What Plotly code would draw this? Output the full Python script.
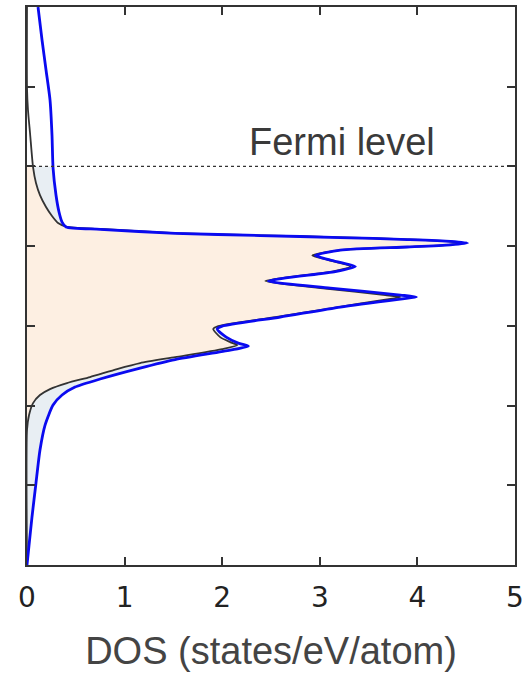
import numpy as np
import plotly.graph_objects as go

# Blue curve (energy in eV relative to Fermi level, DOS in states/eV/atom)
energy_blue = [2.000, 1.586, 1.210, 0.833, 0.395, -0.020, -0.359, -0.572, -0.698, -0.760,
               -0.789, -0.839, -0.867, -0.892, -0.917, -0.939, -0.961, -0.984, -1.011, -1.049,
               -1.118, -1.174, -1.256, -1.319, -1.438, -1.526, -1.614, -1.639, -1.664, -1.764,
               -1.890, -2.003, -2.040, -2.141, -2.216, -2.254, -2.304, -2.423, -2.530, -2.667,
               -2.768, -2.868, -2.994, -3.245, -3.558, -3.972, -4.399, -4.750, -5.000]
dos_blue = [0.113, 0.154, 0.195, 0.236, 0.256, 0.267, 0.297, 0.328, 0.359, 0.400,
            0.749, 1.518, 2.390, 3.210, 3.897, 4.338, 4.513, 4.338, 3.897, 3.210,
            2.954, 3.108, 3.364, 3.159, 2.472, 3.108, 3.826, 3.990, 3.826, 3.210,
            2.595, 2.000, 1.949, 2.041, 2.164, 2.267, 2.082, 1.518, 1.159, 0.749,
            0.492, 0.359, 0.267, 0.185, 0.133, 0.092, 0.051, 0.021, 0.000]

# Black curve
energy_black = [2.000, 0.984, 0.708, 0.419, -0.008, -0.208, -0.359, -0.509, -0.622, -0.710,
                -0.754, -0.785, -0.836, -0.864, -0.889, -0.915, -0.939, -0.961, -0.984, -1.011,
                -1.051, -1.118, -1.174, -1.256, -1.319, -1.438, -1.532, -1.614, -1.639, -1.670,
                -1.770, -1.890, -2.003, -2.040, -2.141, -2.204, -2.241, -2.291, -2.392, -2.467,
                -2.542, -2.642, -2.718, -2.793, -2.868, -2.969, -3.119, -3.307, -5.000]
dos_black = [0.000, 0.000, 0.010, 0.031, 0.062, 0.092, 0.133, 0.195, 0.256, 0.318,
             0.400, 0.749, 1.518, 2.390, 3.210, 3.897, 4.318, 4.472, 4.318, 3.897,
             3.210, 2.923, 3.087, 3.313, 3.128, 2.441, 3.056, 3.672, 3.826, 3.672,
             3.159, 2.544, 1.959, 1.908, 1.979, 2.082, 2.154, 2.000, 1.518, 1.159,
             0.923, 0.646, 0.410, 0.236, 0.133, 0.062, 0.021, 0.000, 0.000]

fermi_energy = 0.0
x_ticks = [0, 1, 2, 3, 4, 5]
x_title = "DOS (states/eV/atom)"
fermi_label = "Fermi level"


def occupied(energy, dos, ef):
    e = np.array(energy, dtype=float)
    d = np.array(dos, dtype=float)
    mask = e <= ef
    # interpolate value at the Fermi level (energies are descending)
    d_ef = float(np.interp(ef, e[::-1], d[::-1]))
    return np.concatenate([[d_ef], d[mask]]), np.concatenate([[ef], e[mask]])


fb_x, fb_y = occupied(energy_blue, dos_blue, fermi_energy)
fk_x, fk_y = occupied(energy_black, dos_black, fermi_energy)

SM = 0.6
fig = go.Figure()
fig.add_trace(go.Scatter(x=fb_x, y=fb_y, mode="lines", fill="tozerox",
                         fillcolor="rgb(232,238,243)", line=dict(width=0, shape="spline", smoothing=SM),
                         hoverinfo="skip", showlegend=False))
fig.add_trace(go.Scatter(x=fk_x, y=fk_y, mode="lines", fill="tozerox",
                         fillcolor="rgb(253,239,226)", line=dict(width=0, shape="spline", smoothing=SM),
                         hoverinfo="skip", showlegend=False))
fig.add_trace(go.Scatter(x=dos_black, y=energy_black, mode="lines",
                         line=dict(color="#333333", width=1.8, shape="spline", smoothing=SM),
                         showlegend=False))
fig.add_trace(go.Scatter(x=dos_blue, y=energy_blue, mode="lines",
                         line=dict(color="#0a0af0", width=2.8, shape="spline", smoothing=SM),
                         showlegend=False))

fig.add_shape(type="line", xref="x", yref="y", x0=0, x1=5, y0=fermi_energy, y1=fermi_energy,
              line=dict(color="#333333", width=1.2, dash="3px,3px"))
fig.add_annotation(x=2.25, y=fermi_energy, xref="x", yref="y", text=fermi_label,
                   showarrow=False, xanchor="left", yanchor="bottom", yshift=1,
                   font=dict(family="Liberation Sans, Arial, sans-serif", size=38, color="#3a3a3a"))

fig.update_layout(
    width=525, height=680,
    margin=dict(l=27, r=10, t=7, b=115, autoexpand=False),
    paper_bgcolor="white", plot_bgcolor="white",
    xaxis=dict(range=[0, 5], tickvals=x_ticks, ticktext=[str(v) for v in x_ticks],
               ticks="inside", ticklen=8, tickwidth=1.5, tickcolor="#333333",
               showline=True, linecolor="#333333", linewidth=1.5, mirror="ticks",
               showgrid=False, zeroline=False, automargin=False, ticklabelstandoff=7,
               tickfont=dict(family="DejaVu Sans", size=28, color="#222222"),
               title=dict(text=x_title, standoff=24,
                          font=dict(family="Liberation Sans, Arial, sans-serif", size=38, color="#444444"))),
    yaxis=dict(range=[-5, 2], dtick=1, tick0=0, showticklabels=False,
               ticks="inside", ticklen=8, tickwidth=1.5, tickcolor="#333333",
               showline=True, linecolor="#333333", linewidth=1.5, mirror="ticks",
               showgrid=False, zeroline=False, automargin=False),
)

fig.write_html("out.html")
